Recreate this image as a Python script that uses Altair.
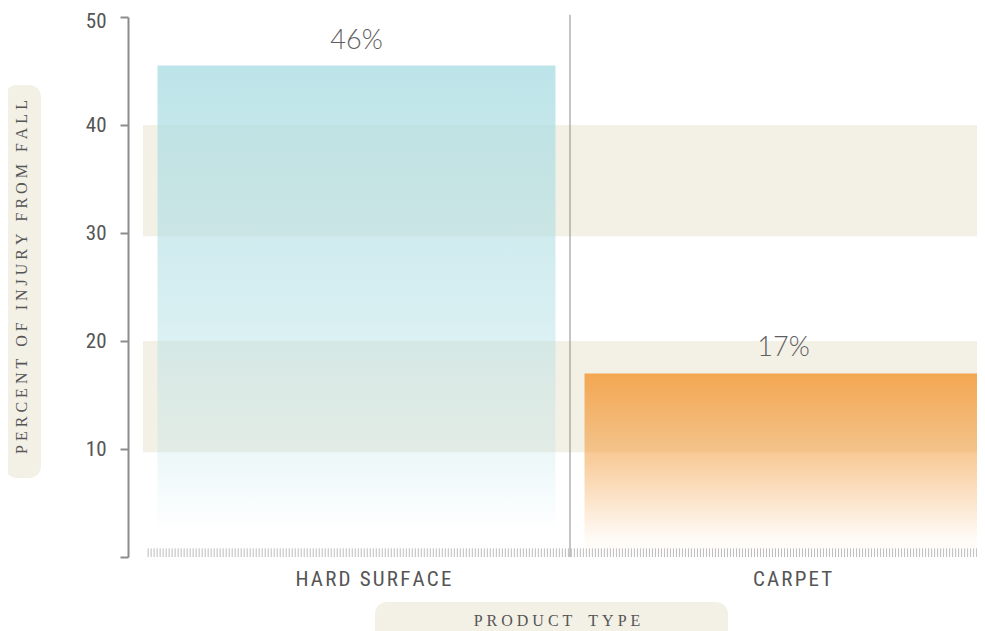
import altair as alt
import numpy as np
import pandas as pd

# ---- data ----
categories = ["HARD SURFACE", "CARPET"]
values = [45.5, 17.0]
value_labels = ["46%", "17%"]
band_lo = [9.7, 29.7]
band_hi = [20.0, 40.0]
y_ticks = [0, 10, 20, 30, 40, 50]
y_title = "PERCENT OF INJURY FROM FALL"
x_title = "PRODUCT TYPE"

# ---- layout ----
W = 834          # visible plot width (page is clipped on the right)
RANGE = 854      # full x range of the category scale
H = 540
BEIGE = "#f3f0e6"
AXIS_GRAY = "#8c8c8c"
TEXT_GRAY = "#555555"
COND = "Roboto Condensed, DejaVu Sans Condensed, Liberation Sans Narrow, Roboto, sans-serif"


def spaced(s, gap=1, word=4):
    nb = "\u00a0"
    return (nb * word).join((nb * gap).join(w) for w in s.split(" "))


df = pd.DataFrame({"cat": categories, "value": values, "label": value_labels})
bands = pd.DataFrame({"lo": band_lo, "hi": band_hi})
one = pd.DataFrame({"ytitle": [spaced(y_title, word=3)], "xtitle": [spaced(x_title, word=4)]})

xscale = alt.Scale(domain=categories, range=[0, RANGE], paddingInner=0.068, paddingOuter=0.034)
yscale = alt.Scale(domain=[0, 50], nice=False)

yaxis = alt.Axis(
    title=None, values=y_ticks, offset=15, tickSize=8, tickWidth=2, tickColor=AXIS_GRAY,
    domainColor=AXIS_GRAY, domainWidth=2, grid=False, labelFont=COND,
    labelFontSize=21, labelColor=TEXT_GRAY, labelPadding=14,
    labelOffset={"condition": {"test": "datum.value == 50", "value": 4}, "value": 0},
    labelExpr="datum.value == 0 ? '' : datum.label",
)
xaxis = alt.Axis(
    title=None, ticks=False, domain=False, grid=False, labelFont=COND, labelLimit=0,
    labelFontSize=21, labelColor=TEXT_GRAY, labelPadding=11, labelAngle=0,
    labelOffset={"condition": {"test": "datum.value == 'CARPET'", "value": 9}, "value": 17},
    labelExpr="join(split(datum.label, ''), '\u200a')",
)

band_layer = alt.Chart(bands).mark_rect(color=BEIGE).encode(
    y=alt.Y("lo:Q", scale=yscale, axis=yaxis), y2="hi:Q"
)


def grad(rgb, stops):
    return alt.Gradient(
        gradient="linear", x1=0, x2=0, y1=0, y2=1,
        stops=[alt.GradientStop(color=f"rgba({rgb},{a})", offset=o) for o, a in stops],
    )


bar_h = alt.Chart(df).transform_filter(alt.datum.cat == categories[0]).mark_bar(
    color=grad("172,221,227", [(0, 0.8), (0.5, 0.48), (0.8, 0.22), (0.95, 0.0), (1, 0.0)])
).encode(
    x=alt.X("cat:N", scale=xscale, axis=xaxis, sort=categories),
    y=alt.Y("value:Q", scale=yscale, axis=yaxis),
)
bar_c = alt.Chart(df).transform_filter(alt.datum.cat == categories[1]).mark_bar(
    color=grad("243,162,72", [(0, 0.94), (0.45, 0.56), (0.9, 0.05), (1, 0.0)])
).encode(
    x=alt.X("cat:N", scale=xscale, axis=xaxis, sort=categories),
    y=alt.Y("value:Q", scale=yscale, axis=yaxis),
)
labels = alt.Chart(df).mark_text(
    font="Lato", fontWeight=300, fontSize=27, color="#5e5e5e", baseline="bottom", dy=-11
).encode(
    x=alt.X("cat:N", scale=xscale, axis=xaxis, sort=categories),
    y=alt.Y("value:Q", scale=yscale, axis=yaxis),
    text="label:N",
)

# title backgrounds and titles
ybg = alt.Chart(one).mark_rect(color=BEIGE, cornerRadius=12).encode(
    x=alt.value(-138), x2=alt.value(-102), y=alt.value(68), y2=alt.value(461)
)
xbg = alt.Chart(one).mark_rect(color=BEIGE, cornerRadius=12).encode(
    x=alt.value(232), x2=alt.value(585), y=alt.value(585), y2=alt.value(640)
)
ytxt = alt.Chart(one).mark_text(
    angle=270, font="Liberation Serif", fontSize=16, color=TEXT_GRAY, baseline="middle", align="center"
).encode(x=alt.value(-121), y=alt.value(260), text="ytitle:N")
xtxt = alt.Chart(one).mark_text(
    font="Liberation Serif", fontSize=16, color=TEXT_GRAY, baseline="middle", align="center"
).encode(x=alt.value(414), y=alt.value(604), text="xtitle:N")

main = alt.layer(band_layer, bar_h, bar_c, labels, ybg, xbg, ytxt, xtxt)

# decoration: ruler ticks along the bottom and divider between categories
deco_x = alt.Scale(domain=[0, 2], range=[0, RANGE])
ruler_pos = np.arange(0.012, 1.968, 0.00703)
ruler = alt.Chart(pd.DataFrame({"p": ruler_pos, "y0": 0.0, "y1": 0.8})).mark_rule(
    color="#bdbdbd", strokeWidth=1
).encode(
    x=alt.X("p:Q", scale=deco_x, axis=None),
    y=alt.Y("y0:Q", scale=yscale, axis=yaxis), y2="y1:Q",
)
divider = alt.Chart(pd.DataFrame({"p": [1.0], "y0": [0.0], "y1": [50.2]})).mark_rule(
    color="#8a8a8a", strokeWidth=1
).encode(
    x=alt.X("p:Q", scale=deco_x, axis=None),
    y=alt.Y("y0:Q", scale=yscale, axis=yaxis), y2="y1:Q",
)
deco = alt.layer(ruler, divider)

chart = alt.layer(main, deco).resolve_scale(x="independent").properties(
    width=W, height=H,
    autosize=alt.AutoSizeParams(type="none"),
    padding={"left": 135, "top": 9, "right": 0, "bottom": 74},
    background="white",
).configure_view(stroke=None)

chart.save("out.html", embed_options={"renderer": "svg", "actions": False})
